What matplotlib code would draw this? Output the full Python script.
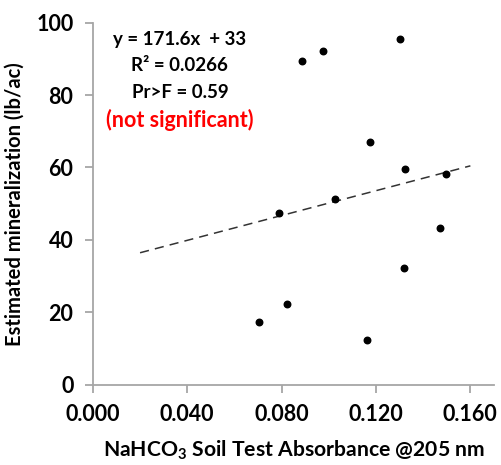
import matplotlib.pyplot as plt
import numpy as np

# scatter data
absorbance = [0.0703, 0.0789, 0.0822, 0.0888, 0.0976, 0.1027, 0.1161,
              0.1175, 0.1300, 0.1317, 0.1322, 0.1472, 0.1497]
mineral = [17.4, 47.3, 22.3, 89.4, 92.2, 51.3, 12.2,
           67.1, 95.5, 32.3, 59.5, 43.3, 58.3]

# reported linear fit
slope, intercept = 171.6, 33
fit_x = np.array([0.02, 0.16])

xticks = [0.000, 0.040, 0.080, 0.120, 0.160]
yticks = [0, 20, 40, 60, 80, 100]

plt.rcParams['font.family'] = ['Lato', 'DejaVu Sans']
plt.rcParams['mathtext.fontset'] = 'custom'
plt.rcParams['mathtext.bf'] = 'Lato:bold'
plt.rcParams['mathtext.rm'] = 'Lato'

fig = plt.figure(figsize=(5.02, 4.65), dpi=100)
ax = fig.add_axes([0.185, 0.173, 0.799, 0.778])

ax.plot(fit_x, slope * fit_x + intercept, ls=(0, (6, 4)), color='#333333', lw=1.1)
ax.scatter(absorbance, mineral, s=22, color='black', zorder=3)

ax.set_xlim(0, 0.17)
ax.set_ylim(0, 100)
ax.set_xticks(xticks)
ax.set_xticklabels(['%.3f' % v for v in xticks])
ax.set_yticks(yticks)

for s in ['top', 'right']:
    ax.spines[s].set_visible(False)
for s in ['left', 'bottom']:
    ax.spines[s].set_color('#a6a6a6')
    ax.spines[s].set_linewidth(1.3)
ax.tick_params(axis='both', direction='out', length=6, width=1.3, color='#a6a6a6',
               labelsize=15.5)
ax.tick_params(axis='x', pad=8)
ax.tick_params(axis='y', pad=8)
for lab in ax.get_xticklabels() + ax.get_yticklabels():
    lab.set_fontweight('bold')

ax.set_xlabel(r'NaHCO$_\mathbf{3}$ Soil Test Absorbance @205 nm', fontsize=15.2,
              fontweight='bold', labelpad=10)
ax.set_ylabel('Estimated mineralization (lb/ac)', fontsize=14.5,
              fontweight='bold', labelpad=8)

tx = 0.0369
ax.text(tx, 95.5, 'y = 171.6x  + 33', fontsize=13.5, fontweight='bold', ha='center', va='center')
ax.text(tx, 88.2, 'R² = 0.0266', fontsize=13.5, fontweight='bold', ha='center', va='center')
ax.text(tx, 80.8, 'Pr>F = 0.59', fontsize=13.5, fontweight='bold', ha='center', va='center')
ax.text(tx, 73.0, '(not significant)', fontsize=15.5, fontweight='bold', color='red',
        ha='center', va='center')

fig.savefig('out.png', dpi=100)
